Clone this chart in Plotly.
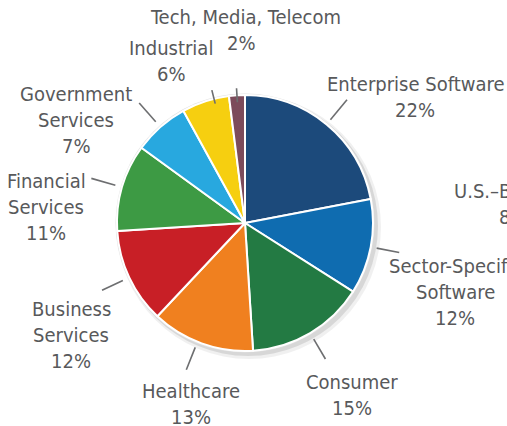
import math
import plotly.graph_objects as go

# ---- data ----
sectors = ["Enterprise Software", "Sector-Specific Software", "Consumer", "Healthcare",
           "Business Services", "Financial Services", "Government Services",
           "Industrial", "Tech, Media, Telecom"]
shares = [22, 12, 15, 13, 12, 11, 7, 6, 2]
name_lines = [["Enterprise Software"], ["Sector-Specific", "Software"], ["Consumer"],
              ["Healthcare"], ["Business", "Services"], ["Financial", "Services"],
              ["Government", "Services"], ["Industrial"], ["Tech, Media, Telecom"]]
colors = ["#1c4a7b", "#0f6cb0", "#237a43", "#f0801f", "#c81f26",
          "#3d9a44", "#28a8df", "#f6cf10", "#7c4b5b"]

# ---- layout helpers (pixels) ----
W, H = 507, 426
CX, CY, R = 245, 223, 128
LINE = 26
# label block: (center x of name, first-line center y, pct x)
label_pos = [(416, 84, 415), (455, 266, 455), (352, 382, 352), (191, 391, 191),
             (71, 309, 71), (46, 181, 46), (76, 94, 76), (171, 48, 171), (245, 17, 241)]
# leader lines: (inner r, outer r, angle offset deg)
leaders = [(134, 160, 0), (134, 157, 0), (135, 158, 0), (134, 158, 2),
           (135, 158, 0), (135, 160, 0), (135, 160, 0), (123, 137, 4), (121, 135, 0)]

FONT = "DejaVu Sans Condensed, Liberation Sans Narrow, DejaVu Sans, sans-serif"
FS = 20
TXT = "#58595b"

def px(x):
    return x / W

def py(y):
    return 1 - y / H

fig = go.Figure()
fig.add_trace(go.Pie(
    labels=sectors, values=shares, sort=False, direction="clockwise", rotation=0,
    marker=dict(colors=colors, line=dict(color="white", width=2)),
    textinfo="none", hoverinfo="label+percent", showlegend=False,
    domain=dict(x=[px(CX - R), px(CX + R)], y=[py(CY + R), py(CY - R)]),
))

shapes = []
# soft shadow behind pie
for dx, dy, rr, col in [(4, 4, R + 4, "rgba(0,0,0,0.06)"), (3, 3, R + 2, "rgba(0,0,0,0.10)"),
                        (0, 0, R + 1.5, "#e2e2e2")]:
    shapes.append(dict(type="circle", xref="paper", yref="paper", layer="below",
                       x0=px(CX + dx - rr), x1=px(CX + dx + rr),
                       y0=py(CY + dy + rr), y1=py(CY + dy - rr),
                       line=dict(width=0), fillcolor=col))

annotations = []
total = sum(shares)
cum = 0
for i, v in enumerate(shares):
    mid = (cum + v / 2) / total * 360
    cum += v
    r0, r1, off = leaders[i]
    a = math.radians(mid + off)
    x0, y0 = CX + r0 * math.sin(a), CY - r0 * math.cos(a)
    x1, y1 = CX + r1 * math.sin(a), CY - r1 * math.cos(a)
    shapes.append(dict(type="line", xref="paper", yref="paper",
                       x0=px(x0), y0=py(y0), x1=px(x1), y1=py(y1),
                       line=dict(color="#6d6e70", width=1.6)))
    lx, ly, pctx = label_pos[i]
    lines = name_lines[i]
    for j, t in enumerate(lines):
        annotations.append(dict(text=t, x=px(lx), y=py(ly + j * LINE), xref="paper", yref="paper",
                                xanchor="center", yanchor="middle", showarrow=False,
                                font=dict(family=FONT, size=FS, color=TXT)))
    annotations.append(dict(text=f"{v}%", x=px(pctx), y=py(ly + len(lines) * LINE),
                            xref="paper", yref="paper", xanchor="center", yanchor="middle",
                            showarrow=False, font=dict(family=FONT, size=FS, color=TXT)))

# neighbouring (cropped) chart text
annotations.append(dict(text="U.S.–Based", x=px(452), y=py(191), xref="paper", yref="paper",
                        xanchor="left", yanchor="middle", showarrow=False,
                        font=dict(family=FONT, size=FS, color=TXT)))
annotations.append(dict(text="8%", x=px(497), y=py(217), xref="paper", yref="paper",
                        xanchor="left", yanchor="middle", showarrow=False,
                        font=dict(family=FONT, size=FS, color=TXT)))

fig.update_layout(width=W, height=H, margin=dict(l=0, r=0, t=0, b=0),
                  paper_bgcolor="white", plot_bgcolor="white",
                  shapes=shapes, annotations=annotations)
fig.write_html("out.html", config={"displayModeBar": False},
               post_script="document.body.style.margin='0';document.body.style.overflow='hidden';")
